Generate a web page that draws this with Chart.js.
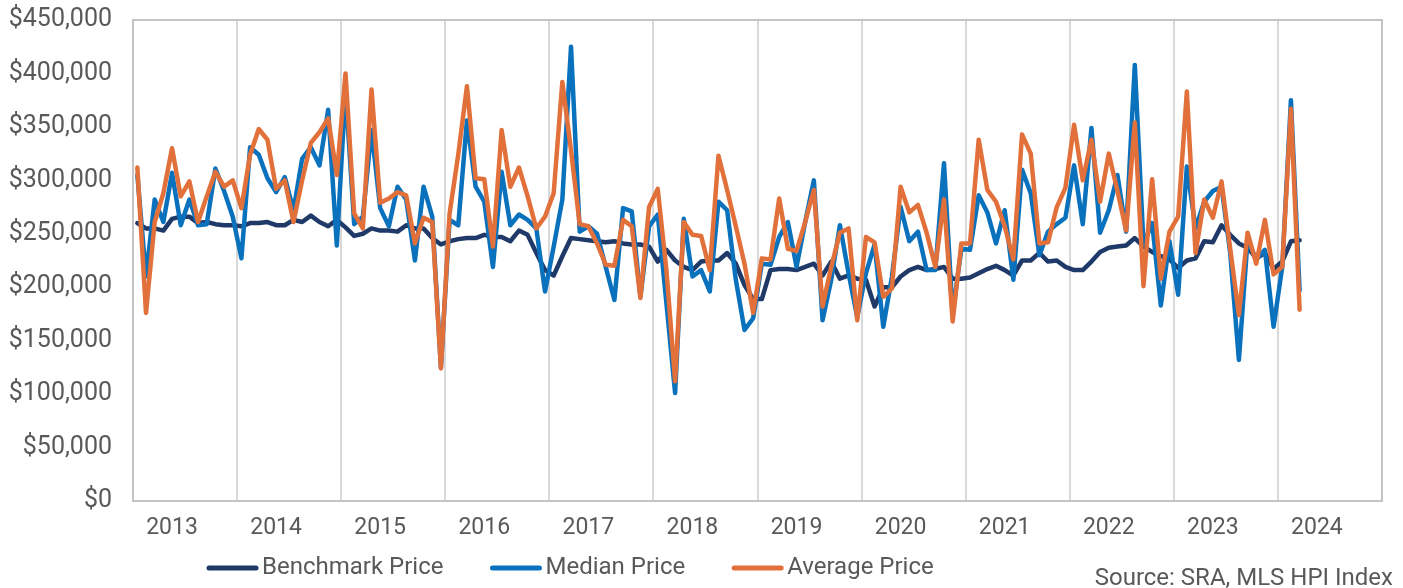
<!DOCTYPE html>
<html>
<head>
<meta charset="utf-8">
<script src="https://cdn.jsdelivr.net/npm/chart.js@4.4.1/dist/chart.umd.min.js"></script>
<style>
  html,body{margin:0;padding:0;background:#fff}
  #wrap{width:1403px;height:588px}
</style>
</head>
<body>
<div id="wrap"><canvas id="hpi" width="1403" height="588"></canvas></div>
<script>
// monthly prices, $ thousands, Jan 2013 - Mar 2024
const years=['2013','2014','2015','2016','2017','2018','2019','2020','2021','2022','2023','2024'];
const months=['Jan','Feb','Mar','Apr','May','Jun','Jul','Aug','Sep','Oct','Nov','Dec'];
const seriesNames=['Benchmark Price','Median Price','Average Price'];
const benchmark=[260,255,255,253,264,266,266,260,261,259,258,258,
  257,260,260,261,258,258,263,261,267,261,257,263,
  256,248,250,255,253,253,252,258,255,255,246,240,
  243,245,246,246,249,247,247,243,253,249,232,216,
  211,229,246,245,244,243,242,243,241,240,240,238,
  224,235,225,219,216,224,225,225,232,222,202,189,
  189,216,217,217,216,219,222,211,224,208,211,208,
  207,182,200,200,210,216,219,216,217,219,208,208,
  209,213,217,220,216,211,225,225,232,224,225,219,
  216,216,224,233,237,238,239,246,238,233,229,226,
  218,225,227,243,242,258,249,241,237,227,232,217,
  224,243,244];
const median=[305,210,282,261,307,258,282,258,259,311,290,266,
  227,331,324,302,289,303,272,320,331,314,366,239,
  385,259,266,347,274,257,294,282,225,294,266,125,
  263,258,356,294,280,219,308,258,268,263,255,196,
  238,282,425,252,257,250,219,188,274,271,191,257,
  268,185,101,264,210,216,196,280,272,207,160,171,
  222,221,247,261,219,261,300,169,207,258,213,172,
  213,240,163,210,275,243,252,216,216,316,175,236,
  235,286,270,241,272,207,310,288,230,252,259,265,
  314,259,349,251,272,305,252,408,240,260,183,243,
  193,313,255,280,290,294,232,132,244,226,235,163,
  219,375,197];
const average=[312,176,261,288,330,285,299,261,285,308,294,300,
  274,324,348,338,292,300,261,300,335,345,358,305,
  400,269,255,385,279,283,289,286,241,265,261,124,
  269,324,388,302,301,238,347,294,312,285,255,266,
  288,392,328,259,257,241,221,220,263,257,190,275,
  292,216,112,261,249,248,216,323,291,257,222,176,
  227,226,283,236,234,261,291,182,219,251,255,169,
  247,242,191,199,294,270,277,251,219,282,168,241,
  241,338,291,280,257,226,343,325,241,242,275,293,
  352,300,338,280,325,290,253,354,201,301,208,252,
  266,383,232,282,265,299,236,174,251,222,263,212,
  219,367,179];
const yMax=450000, yStep=50000;
const sourceNote='Source: SRA, MLS HPI Index';

const monthLabels=years.flatMap(y=>months.map(m=>m+' '+y));
const COL={navy:'#1f3a68',blue:'#0a71bd',orange:'#e2703a',text:'#595959',grid:'#d9d9d9',box:'#c4c4c4'};
const FONT="Roboto, 'Liberation Sans', Arial, sans-serif";

const plotBox={id:'plotBox',
  beforeDatasetsDraw(c){
    const a=c.chartArea,x=c.ctx;
    x.save();x.strokeStyle=COL.box;x.lineWidth=2;
    x.strokeRect(a.left,a.top,a.right-a.left,a.bottom-a.top);
    x.restore();
  },
  afterDraw(c){
    const x=c.ctx;
    x.save();
    x.font='24px '+FONT;x.textBaseline='middle';x.fillStyle=COL.text;
    let cx=207;const cy=568;
    c.data.datasets.forEach(ds=>{
      x.strokeStyle=ds.borderColor;x.lineWidth=5;x.lineCap='round';
      x.beginPath();x.moveTo(cx+2,cy);x.lineTo(cx+49,cy);x.stroke();
      cx+=55;
      x.textAlign='left';x.fillText(ds.label,cx,cy);
      cx+=x.measureText(ds.label).width+47;
    });
    x.font='24px '+FONT;x.textAlign='right';
    x.fillText(sourceNote,1393,579);
    x.restore();
  }};

const mk=(name,vals,color,order)=>({label:name,data:vals.map(v=>v*1000),
  borderColor:color,backgroundColor:color,borderWidth:4.5,pointRadius:0,
  tension:0,borderJoinStyle:'round',borderCapStyle:'round',order:order});

new Chart(document.getElementById('hpi'),{type:'line',
  data:{labels:monthLabels,datasets:[
    mk(seriesNames[0],benchmark,COL.navy,2),
    mk(seriesNames[1],median,COL.blue,1),
    mk(seriesNames[2],average,COL.orange,0)]},
  options:{responsive:false,animation:false,
    layout:{padding:{top:20,right:21,left:0,bottom:0}},
    plugins:{legend:{display:false},tooltip:{enabled:false}},
    scales:{
      x:{type:'category',offset:true,
        grid:{offset:true,drawTicks:false,lineWidth:2,
          color:ctx=>ctx.index%12===0?COL.grid:'rgba(0,0,0,0)'},
        border:{display:false},
        ticks:{autoSkip:false,maxRotation:0,minRotation:0,padding:13,color:COL.text,
          font:{family:FONT,size:23},
          callback:(v,i)=>i%12===4?years[Math.floor(i/12)]:''},
        afterFit:s=>{s.height=87;}},
      y:{min:0,max:yMax,
        grid:{display:false,drawTicks:false},border:{display:false},
        ticks:{stepSize:yStep,padding:21,color:COL.text,font:{family:FONT,size:25},
          callback:v=>'$'+v.toLocaleString('en-US')},
        afterFit:s=>{s.width=133;s.paddingTop=0;s.paddingBottom=0;}}}},
  plugins:[plotBox]});
</script>
</body>
</html>
